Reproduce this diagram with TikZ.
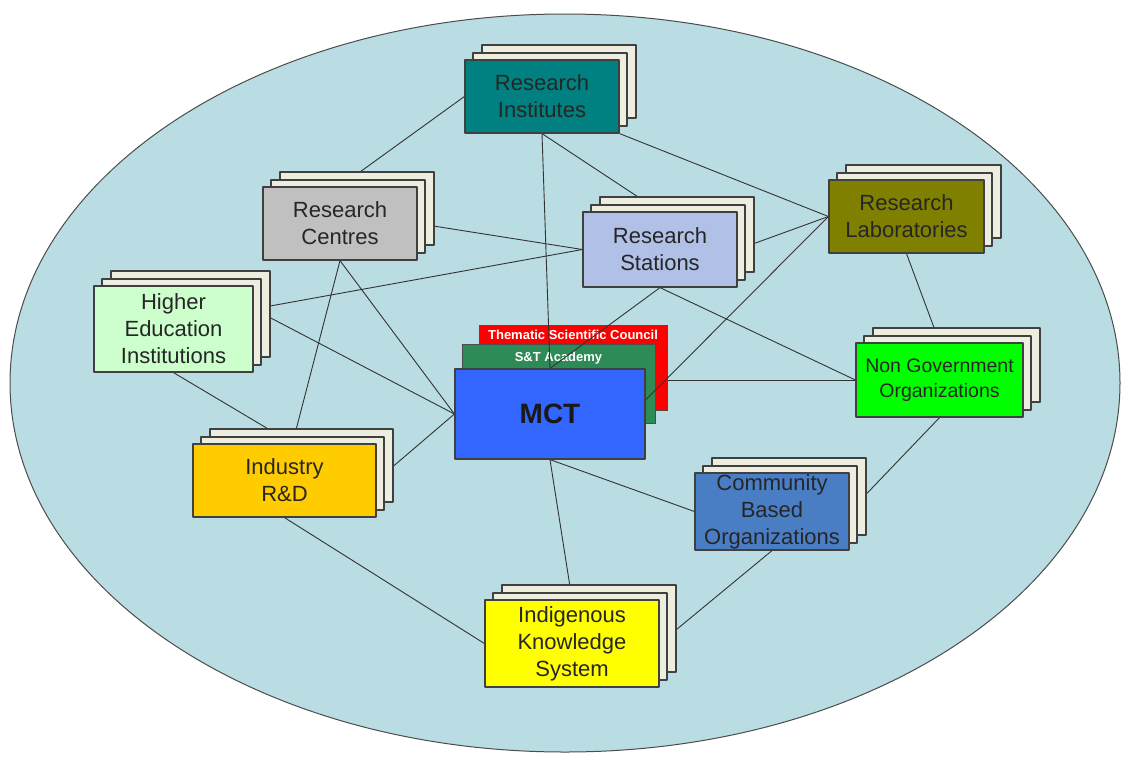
\documentclass[tikz,border=0pt]{standalone}
\usepackage{fontspec}
\setmainfont{Liberation Sans}
\usetikzlibrary{shapes,arrows,shadows}
\usetikzlibrary{positioning}
\pgfdeclarelayer{back}
\pgfdeclarelayer{links}
\pgfsetlayers{back,links,main}
\definecolor{sfondo}{RGB}{185,221,226}
\definecolor{carta}{RGB}{238,238,224}
\definecolor{cInst}{RGB}{0,128,128}
\definecolor{cCent}{RGB}{192,192,192}
\definecolor{cStat}{RGB}{176,192,230}
\definecolor{cLab}{RGB}{128,128,0}
\definecolor{cHigh}{RGB}{204,255,204}
\definecolor{cNgo}{RGB}{0,255,0}
\definecolor{cInd}{RGB}{255,204,0}
\definecolor{cCbo}{RGB}{74,126,196}
\definecolor{cIks}{RGB}{255,255,0}
\definecolor{cMct}{RGB}{51,102,255}
\definecolor{cAcad}{RGB}{46,139,87}
\begin{document}
\begin{tikzpicture}[line cap=round,line join=round,x=1pt,y=-1pt,
	box/.style={draw=black!75,line width=1.2pt,inner sep=0pt,align=center,
		text=black!85,font=\fontsize{22}{27}\selectfont,
		copy shadow={shadow xshift=17pt,shadow yshift=15pt,fill=carta,draw=black!75},
		copy shadow={shadow xshift=8pt,shadow yshift=7pt,fill=carta,draw=black!75}},
	flat/.style={draw=black!70,line width=1pt,inner sep=0pt},
	link/.style={line width=0.9pt,draw=black!80}]
		\useasboundingbox (0,0) rectangle (1122,756);
		\begin{pgfonlayer}{back}
		\draw[fill=sfondo,draw=black!70,line width=1pt] (565,383) ellipse [x radius=555pt,y radius=369pt];
		\node[flat,fill=red,minimum width=188pt,minimum height=85pt] (council) at (573,367.5) {};
		\node[inner sep=1pt,anchor=north,text=white,font=\bfseries\fontsize{13}{15}\selectfont] (councilt) at ([yshift=-4pt]council.north) {Thematic Scientific Council};
		\node[flat,fill=cAcad,minimum width=193pt,minimum height=79pt] (academy) at (558.5,383.5) {};
		\node[inner sep=1pt,anchor=north,text=white,font=\bfseries\fontsize{13}{15}\selectfont] (academyt) at ([yshift=-7pt]academy.north) {S\&T Academy};
		\end{pgfonlayer}
		\node[flat,draw=black!75,line width=1.2pt,fill=cMct,minimum width=190pt,minimum height=90pt,font=\bfseries\fontsize{28}{32}\selectfont,text=black!90] (mct) at (550,414) {MCT};
		% nodi
		\node[box,fill=cInst,minimum width=154pt,minimum height=73pt] (ri) at (542,96.5) {Research\\Institutes};
		\node[box,fill=cCent,minimum width=154pt,minimum height=73pt] (rc) at (340,223.5) {Research\\Centres};
		\node[box,fill=cStat,minimum width=154pt,minimum height=75pt] (rs) at (660,249.5) {Research\\Stations};
		\node[box,fill=cLab,minimum width=155pt,minimum height=73pt] (rl) at (906.5,216.5) {Research\\Laboratories};
		\node[box,fill=cHigh,minimum width=159pt,minimum height=86pt] (hei) at (173.5,329) {Higher\\Education\\Institutions};
		\node[box,fill=cNgo,minimum width=167pt,minimum height=74pt,font=\fontsize{19.5}{25}\selectfont] (ngo) at (939.5,380) {Non Government\\Organizations};
		\node[box,fill=cInd,minimum width=183pt,minimum height=73pt] (ind) at (284.5,480.5) {Industry\\R\&D};
		\node[box,fill=cCbo,minimum width=154pt,minimum height=77pt] (cbo) at (772,511.5) {Community\\Based\\Organizations};
		\node[box,fill=cIks,minimum width=174pt,minimum height=87pt] (iks) at (572,643.5) {Indigenous\\Knowledge\\System};
		% collegamenti
		\begin{pgfonlayer}{links}
		\draw[link] (ri.west) -- (rc.north);
		\draw[link] (ri.south) -- (mct.north);
		\draw[link] (ri.south) -- (rs.north);
		\draw[link] (ri.south east) -- (rl.west);
		\draw[link] (rc.east) -- (rs.west);
		\draw[link] ([yshift=20pt]hei.east) -- (rs.west);
		\draw[link] ([yshift=20pt]hei.east) -- (mct.west);
		\draw[link] (rc.south) -- ([xshift=8pt]ind.north);
		\draw[link] (rc.south) -- (mct.west);
		\draw[link] (hei.south) -- ([xshift=8pt]ind.north);
		\draw[link] (ind.east) -- (mct.west);
		\draw[link] (ind.south) -- (iks.west);
		\draw[link] (rs.south) -- (mct.north);
		\draw[link] (rs.south) -- (ngo.west);
		\draw[link] (rs.east) -- (rl.west);
		\draw[link] (rl.west) -- ([yshift=14pt]mct.east);
		\draw[link] (council.east |- ngo.west) -- (ngo.west);
		\draw[link] (rl.south) -- (ngo.north);
		\draw[link] (ngo.south) -- (cbo.east);
		\draw[link] (mct.south) -- (cbo.west);
		\draw[link] (mct.south) -- (iks.north);
		\draw[link] (cbo.south) -- (iks.east);
		\end{pgfonlayer}
\end{tikzpicture}
\end{document}
